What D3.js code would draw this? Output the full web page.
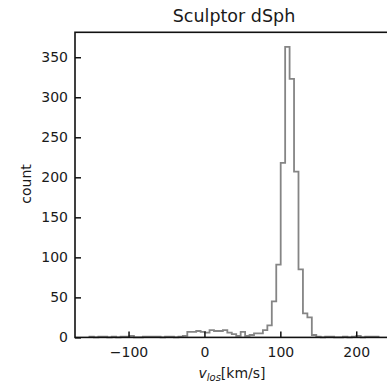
<!DOCTYPE html>
<html><head><meta charset="utf-8">
<script src="https://cdn.jsdelivr.net/npm/d3@7"></script>
<style>body{margin:0;background:#fff}svg{display:block}text{font-family:"DejaVu Sans",sans-serif;fill:#1a1a1a}</style>
</head><body><svg id="c" width="387" height="383"></svg>
<script>
const binStart = -151.5;
const binWidth = 5.86;
const counts = [1,0,1,1,0,1,0,1,1,2, 0,0,1,1,1,1,0,1,1,0, 1,2,7,7,8,7,6,9,8,8, 9,6,4,2,7,2,3,5,5,9, 15,45,91,218,363,323,207,85,30,25, 3,1,0,1,1,0,0,1,0,1, 2,0,1,1,1];
const xTicks = [-100,0,100,200];
const yTicks = [0,50,100,150,200,250,300,350];
const title = "Sculptor dSph";

const svg = d3.select("#c");
const L=75, R=393, T=32.3, B=337.4;
const binEnd = binStart + binWidth*counts.length;
const pad = (binEnd-binStart)*0.05;
const x = d3.scaleLinear().domain([binStart-pad, binEnd+pad]).range([L,R]);
const y = d3.scaleLinear().domain([0, d3.max(counts)*1.05]).range([B,T]);

// step outline
const pts = [[binStart,0]];
counts.forEach((c,i)=>{ const a=binStart+i*binWidth; pts.push([a,c]); pts.push([a+binWidth,c]); });
pts.push([binEnd,0]);
const line = d3.line().x(d=>x(d[0])).y(d=>y(d[1]));
svg.append("path").attr("d",line(pts)).attr("fill","none").attr("stroke","#858585").attr("stroke-width",1.8).attr("stroke-linejoin","miter");

// frame
svg.append("rect").attr("x",L).attr("y",T).attr("width",R-L).attr("height",B-T).attr("fill","none").attr("stroke","#111").attr("stroke-width",1.6);

// x axis
const gx = svg.append("g").attr("transform",`translate(0,${B})`)
  .call(d3.axisBottom(x).tickValues(xTicks).tickSizeInner(-6).tickSizeOuter(0).tickPadding(10).tickFormat(d=>d<0?"\u2212"+Math.abs(d):d));
gx.select(".domain").remove();
gx.selectAll("line").attr("stroke","#111").attr("stroke-width",1.5);
gx.selectAll("text").attr("font-size",14).attr("fill","#1a1a1a");

// y axis
const gy = svg.append("g").attr("transform",`translate(${L},0)`)
  .call(d3.axisLeft(y).tickValues(yTicks).tickSizeInner(-6).tickSizeOuter(0).tickPadding(7));
gy.select(".domain").remove();
gy.selectAll("line").attr("stroke","#111").attr("stroke-width",1.5);
gy.selectAll("text").attr("font-size",14).attr("fill","#1a1a1a");

// title
svg.append("text").attr("x",(L+R)/2).attr("y",21.5).attr("text-anchor","middle").attr("font-size",17.5).text(title);

// y label
svg.append("text").attr("transform",`translate(31,184) rotate(-90)`).attr("text-anchor","middle").attr("font-size",14).text("count");

// x label
const xl = svg.append("text").attr("x",232).attr("y",378).attr("text-anchor","middle").attr("font-size",14);
xl.append("tspan").attr("font-style","italic").text("v");
xl.append("tspan").attr("font-style","italic").attr("font-size",10).attr("dy",3).text("los");
xl.append("tspan").attr("dy",-3).text("[km/s]");
</script></body></html>
